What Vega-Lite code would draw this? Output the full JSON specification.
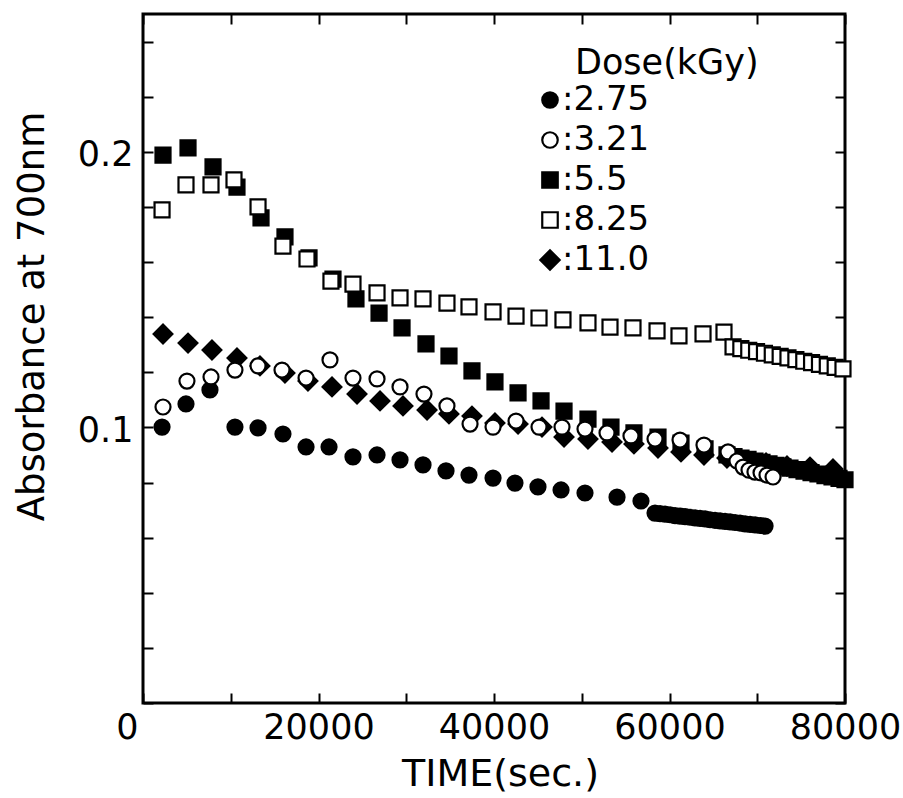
{
  "$schema": "https://vega.github.io/schema/vega-lite/v6.json",
  "width": 702,
  "height": 689,
  "autosize": "none",
  "padding": {"left": 143, "top": 14, "right": 58, "bottom": 95},
  "background": "white",
  "config": {
    "font": "DejaVu Sans",
    "view": {"stroke": "black", "strokeWidth": 3},
    "axis": {"domain": false, "grid": false, "tickColor": "black", "tickWidth": 2, "tickSize": -10, "labelColor": "black", "titleColor": "black", "labelFont": "DejaVu Sans", "titleFont": "DejaVu Sans", "titleFontWeight": "normal", "labelFontSize": 35, "labelFlush": false},
    "legend": {"orient": "none", "legendX": 432, "legendY": 32, "titleLimit": 500, "labelLimit": 300, "titleFontSize": 35, "titleFontWeight": "normal", "titleColor": "black", "titleFont": "DejaVu Sans", "titlePadding": 2, "labelFontSize": 34, "labelColor": "black", "labelFont": "DejaVu Sans", "symbolSize": 240, "symbolStrokeWidth": 2.2, "symbolStrokeColor": "black", "rowPadding": 6, "padding": 0, "symbolOffset": -42, "labelOffset": -5}
  },
  "data": {
    "values": [
      {"d": "2.75", "t": 2170, "a": 0.1001}, {"d": "2.75", "t": 4900, "a": 0.1085}, {"d": "2.75", "t": 7630, "a": 0.1136}, {"d": "2.75", "t": 10480, "a": 0.1001}, {"d": "2.75", "t": 13110, "a": 0.0998}, {"d": "2.75", "t": 15950, "a": 0.0976}, {"d": "2.75", "t": 18580, "a": 0.0929}, {"d": "2.75", "t": 21200, "a": 0.0929}, {"d": "2.75", "t": 23930, "a": 0.0893}, {"d": "2.75", "t": 26670, "a": 0.0900}, {"d": "2.75", "t": 29290, "a": 0.0882}, {"d": "2.75", "t": 31910, "a": 0.0864}, {"d": "2.75", "t": 34530, "a": 0.0842}, {"d": "2.75", "t": 37150, "a": 0.0827}, {"d": "2.75", "t": 39890, "a": 0.0816}, {"d": "2.75", "t": 42390, "a": 0.0798}, {"d": "2.75", "t": 45010, "a": 0.0784}, {"d": "2.75", "t": 47640, "a": 0.0773}, {"d": "2.75", "t": 50370, "a": 0.0762}, {"d": "2.75", "t": 54020, "a": 0.0747}, {"d": "2.75", "t": 56750, "a": 0.0733},
      {"d": "2.75", "t": 58350, "a": 0.0689}, {"d": "2.75", "t": 58920, "a": 0.0687}, {"d": "2.75", "t": 59490, "a": 0.0685}, {"d": "2.75", "t": 60060, "a": 0.0683}, {"d": "2.75", "t": 60630, "a": 0.0680}, {"d": "2.75", "t": 61200, "a": 0.0678}, {"d": "2.75", "t": 61770, "a": 0.0676}, {"d": "2.75", "t": 62340, "a": 0.0674}, {"d": "2.75", "t": 62910, "a": 0.0672}, {"d": "2.75", "t": 63480, "a": 0.0670}, {"d": "2.75", "t": 64050, "a": 0.0668}, {"d": "2.75", "t": 64620, "a": 0.0665}, {"d": "2.75", "t": 65190, "a": 0.0663}, {"d": "2.75", "t": 65760, "a": 0.0661}, {"d": "2.75", "t": 66330, "a": 0.0659}, {"d": "2.75", "t": 66900, "a": 0.0657}, {"d": "2.75", "t": 67470, "a": 0.0655}, {"d": "2.75", "t": 68040, "a": 0.0653}, {"d": "2.75", "t": 68610, "a": 0.0650}, {"d": "2.75", "t": 69180, "a": 0.0648}, {"d": "2.75", "t": 69750, "a": 0.0646}, {"d": "2.75", "t": 70320, "a": 0.0644}, {"d": "2.75", "t": 70890, "a": 0.0642},
      {"d": "11.0", "t": 2280, "a": 0.1339}, {"d": "11.0", "t": 5130, "a": 0.1306}, {"d": "11.0", "t": 7860, "a": 0.1281}, {"d": "11.0", "t": 10710, "a": 0.1252}, {"d": "11.0", "t": 13330, "a": 0.1223}, {"d": "11.0", "t": 16180, "a": 0.1197}, {"d": "11.0", "t": 18800, "a": 0.1168}, {"d": "11.0", "t": 21540, "a": 0.1147}, {"d": "11.0", "t": 24390, "a": 0.1121}, {"d": "11.0", "t": 27010, "a": 0.1096}, {"d": "11.0", "t": 29630, "a": 0.1078}, {"d": "11.0", "t": 32370, "a": 0.1063}, {"d": "11.0", "t": 34870, "a": 0.1049}, {"d": "11.0", "t": 37490, "a": 0.1041}, {"d": "11.0", "t": 40110, "a": 0.1016}, {"d": "11.0", "t": 42740, "a": 0.1012}, {"d": "11.0", "t": 45470, "a": 0.1001}, {"d": "11.0", "t": 47980, "a": 0.0965}, {"d": "11.0", "t": 50710, "a": 0.0958}, {"d": "11.0", "t": 53450, "a": 0.0947}, {"d": "11.0", "t": 55950, "a": 0.0940}, {"d": "11.0", "t": 58690, "a": 0.0925}, {"d": "11.0", "t": 61310, "a": 0.0911}, {"d": "11.0", "t": 63930, "a": 0.0900}, {"d": "11.0", "t": 66550, "a": 0.0889}, {"d": "11.0", "t": 68720, "a": 0.0878}, {"d": "11.0", "t": 71000, "a": 0.0871}, {"d": "11.0", "t": 73390, "a": 0.0860}, {"d": "11.0", "t": 76010, "a": 0.0856}, {"d": "11.0", "t": 78630, "a": 0.0849},
      {"d": "5.5", "t": 2280, "a": 0.1988}, {"d": "5.5", "t": 5130, "a": 0.2014}, {"d": "5.5", "t": 7980, "a": 0.1945}, {"d": "5.5", "t": 10710, "a": 0.1872}, {"d": "5.5", "t": 13450, "a": 0.1760}, {"d": "5.5", "t": 16180, "a": 0.1691}, {"d": "5.5", "t": 18920, "a": 0.1615}, {"d": "5.5", "t": 21650, "a": 0.1538}, {"d": "5.5", "t": 24270, "a": 0.1466}, {"d": "5.5", "t": 26900, "a": 0.1415}, {"d": "5.5", "t": 29520, "a": 0.1361}, {"d": "5.5", "t": 32250, "a": 0.1303}, {"d": "5.5", "t": 34870, "a": 0.1259}, {"d": "5.5", "t": 37490, "a": 0.1205}, {"d": "5.5", "t": 40110, "a": 0.1165}, {"d": "5.5", "t": 42740, "a": 0.1125}, {"d": "5.5", "t": 45360, "a": 0.1096}, {"d": "5.5", "t": 47980, "a": 0.1059}, {"d": "5.5", "t": 50710, "a": 0.1030}, {"d": "5.5", "t": 53330, "a": 0.1001}, {"d": "5.5", "t": 55950, "a": 0.0980}, {"d": "5.5", "t": 58690, "a": 0.0965}, {"d": "5.5", "t": 61310, "a": 0.0943}, {"d": "5.5", "t": 64050, "a": 0.0922},
      {"d": "5.5", "t": 66550, "a": 0.0900}, {"d": "5.5", "t": 67350, "a": 0.0894}, {"d": "5.5", "t": 68150, "a": 0.0889}, {"d": "5.5", "t": 68950, "a": 0.0884}, {"d": "5.5", "t": 69740, "a": 0.0878}, {"d": "5.5", "t": 70540, "a": 0.0873}, {"d": "5.5", "t": 71340, "a": 0.0868}, {"d": "5.5", "t": 72140, "a": 0.0862}, {"d": "5.5", "t": 72930, "a": 0.0857}, {"d": "5.5", "t": 73730, "a": 0.0852}, {"d": "5.5", "t": 74530, "a": 0.0847}, {"d": "5.5", "t": 75330, "a": 0.0841}, {"d": "5.5", "t": 76130, "a": 0.0836}, {"d": "5.5", "t": 76920, "a": 0.0831}, {"d": "5.5", "t": 77720, "a": 0.0825}, {"d": "5.5", "t": 78520, "a": 0.0820}, {"d": "5.5", "t": 79320, "a": 0.0815}, {"d": "5.5", "t": 80000, "a": 0.0810},
      {"d": "8.25", "t": 2170, "a": 0.1789}, {"d": "8.25", "t": 4900, "a": 0.1880}, {"d": "8.25", "t": 7750, "a": 0.1880}, {"d": "8.25", "t": 10370, "a": 0.1898}, {"d": "8.25", "t": 13110, "a": 0.1800}, {"d": "8.25", "t": 15950, "a": 0.1658}, {"d": "8.25", "t": 18690, "a": 0.1611}, {"d": "8.25", "t": 21420, "a": 0.1531}, {"d": "8.25", "t": 23930, "a": 0.1520}, {"d": "8.25", "t": 26670, "a": 0.1488}, {"d": "8.25", "t": 29290, "a": 0.1470}, {"d": "8.25", "t": 31910, "a": 0.1466}, {"d": "8.25", "t": 34640, "a": 0.1451}, {"d": "8.25", "t": 37150, "a": 0.1437}, {"d": "8.25", "t": 39890, "a": 0.1419}, {"d": "8.25", "t": 42510, "a": 0.1404}, {"d": "8.25", "t": 45130, "a": 0.1397}, {"d": "8.25", "t": 47860, "a": 0.1390}, {"d": "8.25", "t": 50710, "a": 0.1379}, {"d": "8.25", "t": 53220, "a": 0.1364}, {"d": "8.25", "t": 55840, "a": 0.1361}, {"d": "8.25", "t": 58580, "a": 0.1350}, {"d": "8.25", "t": 61080, "a": 0.1332}, {"d": "8.25", "t": 63820, "a": 0.1339}, {"d": "8.25", "t": 66210, "a": 0.1346},
      {"d": "8.25", "t": 67240, "a": 0.1292}, {"d": "8.25", "t": 68130, "a": 0.1286}, {"d": "8.25", "t": 69030, "a": 0.1280}, {"d": "8.25", "t": 69920, "a": 0.1275}, {"d": "8.25", "t": 70820, "a": 0.1269}, {"d": "8.25", "t": 71710, "a": 0.1263}, {"d": "8.25", "t": 72610, "a": 0.1258}, {"d": "8.25", "t": 73500, "a": 0.1252}, {"d": "8.25", "t": 74400, "a": 0.1246}, {"d": "8.25", "t": 75300, "a": 0.1240}, {"d": "8.25", "t": 76190, "a": 0.1235}, {"d": "8.25", "t": 77090, "a": 0.1229}, {"d": "8.25", "t": 77980, "a": 0.1223}, {"d": "8.25", "t": 78880, "a": 0.1218}, {"d": "8.25", "t": 79770, "a": 0.1212},
      {"d": "3.21", "t": 2280, "a": 0.1074}, {"d": "3.21", "t": 5010, "a": 0.1168}, {"d": "3.21", "t": 7750, "a": 0.1183}, {"d": "3.21", "t": 10480, "a": 0.1208}, {"d": "3.21", "t": 13110, "a": 0.1223}, {"d": "3.21", "t": 15840, "a": 0.1208}, {"d": "3.21", "t": 18580, "a": 0.1179}, {"d": "3.21", "t": 21310, "a": 0.1245}, {"d": "3.21", "t": 23930, "a": 0.1179}, {"d": "3.21", "t": 26670, "a": 0.1176}, {"d": "3.21", "t": 29290, "a": 0.1147}, {"d": "3.21", "t": 32020, "a": 0.1121}, {"d": "3.21", "t": 34640, "a": 0.1078}, {"d": "3.21", "t": 37270, "a": 0.1012}, {"d": "3.21", "t": 39890, "a": 0.1001}, {"d": "3.21", "t": 42510, "a": 0.1023}, {"d": "3.21", "t": 45130, "a": 0.1001}, {"d": "3.21", "t": 47750, "a": 0.1001}, {"d": "3.21", "t": 50370, "a": 0.0994}, {"d": "3.21", "t": 52880, "a": 0.0980}, {"d": "3.21", "t": 55610, "a": 0.0969}, {"d": "3.21", "t": 58350, "a": 0.0958}, {"d": "3.21", "t": 61200, "a": 0.0954}, {"d": "3.21", "t": 63930, "a": 0.0936}, {"d": "3.21", "t": 66670, "a": 0.0911}, {"d": "3.21", "t": 67690, "a": 0.0878}, {"d": "3.21", "t": 68380, "a": 0.0856}, {"d": "3.21", "t": 69060, "a": 0.0845}, {"d": "3.21", "t": 69740, "a": 0.0838}, {"d": "3.21", "t": 70430, "a": 0.0835}, {"d": "3.21", "t": 71110, "a": 0.0827}, {"d": "3.21", "t": 71800, "a": 0.0820}
    ]
  },
  "layer": [
    {
      "mark": {"type": "point", "filled": true, "strokeWidth": 2.2, "size": 225, "opacity": 1},
      "encoding": {
        "x": {
          "field": "t", "type": "quantitative",
          "scale": {"domain": [0, 80000], "nice": false, "zero": false},
          "axis": {
            "orient": "bottom",
            "values": [0, 10000, 20000, 30000, 40000, 50000, 60000, 70000, 80000],
            "labelExpr": "datum.value % 20000 === 0 ? format(datum.value, 'd') : ''",
            "labelOffset": {"condition": {"test": "datum.value === 0", "value": -16}, "value": 0},
            "labelFlush": false,
            "labelOverlap": false,
            "labelPadding": 17,
            "labelFontSize": 35,
            "title": "TIME(sec.)",
            "titleFontSize": 38,
            "titleX": 357,
            "titleY": 82,
            "titleBaseline": "alphabetic",
            "titleAlign": "center"
          }
        },
        "y": {
          "field": "a", "type": "quantitative",
          "scale": {"domain": [0, 0.25], "nice": false, "zero": false},
          "axis": {
            "orient": "left",
            "values": [0, 0.02, 0.04, 0.06, 0.08, 0.1, 0.12, 0.14, 0.16, 0.18, 0.2, 0.22, 0.24],
            "labelExpr": "abs(datum.value - 0.1) < 1e-9 ? '0.1' : (abs(datum.value - 0.2) < 1e-9 ? '0.2' : '')",
            "labelFlush": false,
            "labelOverlap": false,
            "labelPadding": 20,
            "labelOffset": 3,
            "labelFontSize": 35,
            "title": "Absorbance at 700nm",
            "titleFontSize": 37,
            "titleAngle": 270,
            "titleX": -100,
            "titleY": 302,
            "titleBaseline": "alphabetic",
            "titleAlign": "center"
          }
        },
        "shape": {
          "field": "d", "type": "nominal",
          "scale": {"domain": ["2.75", "3.21", "5.5", "8.25", "11.0"], "range": ["circle", "circle", "square", "square", "M-1.25,0L0,-1.25L1.25,0L0,1.25Z"]},
          "legend": {"title": "Dose(kGy)", "labelExpr": "':' + datum.label"}
        },
        "fill": {
          "field": "d", "type": "nominal",
          "scale": {"domain": ["2.75", "3.21", "5.5", "8.25", "11.0"], "range": ["black", "white", "black", "white", "black"]},
          "legend": {"title": "Dose(kGy)", "labelExpr": "':' + datum.label"}
        },
        "stroke": {
          "field": "d", "type": "nominal",
          "scale": {"domain": ["2.75", "3.21", "5.5", "8.25", "11.0"], "range": ["black", "black", "black", "black", "black"]},
          "legend": {"title": "Dose(kGy)", "labelExpr": "':' + datum.label"}
        }
      }
    },
    {
      "mark": {"type": "point", "opacity": 0},
      "encoding": {
        "x": {
          "field": "t", "type": "quantitative",
          "scale": {"domain": [0, 80000], "nice": false, "zero": false},
          "axis": {"orient": "top", "values": [0, 10000, 20000, 30000, 40000, 50000, 60000, 70000, 80000], "labels": false, "title": null}
        },
        "y": {
          "field": "a", "type": "quantitative",
          "scale": {"domain": [0, 0.25], "nice": false, "zero": false},
          "axis": {"orient": "right", "values": [0, 0.02, 0.04, 0.06, 0.08, 0.1, 0.12, 0.14, 0.16, 0.18, 0.2, 0.22, 0.24], "labels": false, "title": null}
        }
      }
    }
  ]
}
